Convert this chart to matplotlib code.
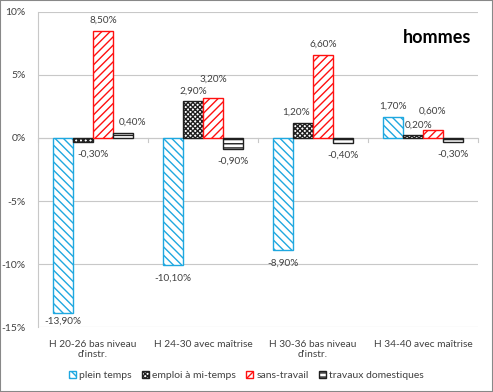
import numpy as np
import matplotlib.pyplot as plt
from matplotlib.ticker import FuncFormatter

plt.rcParams['font.family'] = ['Lato', 'DejaVu Sans']
plt.rcParams['hatch.linewidth'] = 1.0

categories = ["H 20-26 bas niveau\nd'instr.", "H 24-30 avec maîtrise",
              "H 30-36 bas niveau\nd'instr.", "H 34-40 avec maîtrise"]
series = ["plein temps", "emploi à mi-temps", "sans-travail", "travaux domestiques"]
plein_temps = [-13.9, -10.1, -8.9, 1.7]
mi_temps = [-0.3, 2.9, 1.2, 0.2]
sans_travail = [8.5, 3.2, 6.6, 0.6]
travaux = [0.4, -0.9, -0.4, -0.3]

values = [plein_temps, mi_temps, sans_travail, travaux]
edge = ["#1FA8E0", "#202020", "#FF1010", "#202020"]
hatch = ["\\\\\\\\", "xxxxxxx", "////", "----"]

# label nudges in pixels (series index, group index) -> (dx, dy)
nudge = {(1, 0): (10, 0), (3, 0): (10, 0), (2, 1): (0, 8), (1, 2): (-7, 0),
         (1, 3): (6, 0), (2, 3): (0, 9), (0, 0): (0, 4), (0, 1): (0, -1), (0, 2): (0, -1)}

fig = plt.figure(figsize=(4.93, 3.92), dpi=100)
ax = fig.add_axes([0.0771, 0.1658, 0.8925, 0.8036])
fig.patches.append(plt.Rectangle((0, 0), 1, 1, transform=fig.transFigure,
                                 fill=False, edgecolor="#888888", lw=1.5))

x = np.arange(len(categories))
w = 0.18
for i, (vals, name) in enumerate(zip(values, series)):
    pos = x + (i - 1.5) * w
    ax.bar(pos, vals, w, color="white", edgecolor=edge[i], hatch=hatch[i],
           linewidth=1, label=name, zorder=3)
    for j, (p, v) in enumerate(zip(pos, vals)):
        txt = f"{v:.2f}%".replace(".", ",")
        dx, dy = nudge.get((i, j), (0, 0))
        off = 10.5 if v >= 0 else -12
        ax.annotate(txt, (p, v), xytext=(dx, off + dy), textcoords="offset pixels",
                    ha="center", va="center", fontsize=7.2, color="#404040")

ax.set_ylim(-15, 10)
ax.set_xlim(-0.5, 3.5)
ax.set_yticks(range(-15, 11, 5))
ax.yaxis.set_major_formatter(FuncFormatter(lambda v, _: f"{int(v)}%"))
ax.grid(axis="y", color="#C8C8C8", lw=0.8, zorder=0)
ax.set_xticks(x)
ax.set_xticklabels(categories, fontsize=7.3, color="#404040", linespacing=1.25)
ax.tick_params(axis="x", length=0, pad=9)
ax.tick_params(axis="y", length=0, pad=9, labelsize=7.5, labelcolor="#404040")
for s in ["top", "right", "bottom"]:
    ax.spines[s].set_visible(False)
ax.spines["left"].set_color("#C8C8C8")
ax.axhline(0, color="#C8C8C8", lw=0.8, zorder=1)
for b in np.arange(-0.5, 4, 1):
    ax.plot([b, b], [0, -0.3], color="#C8C8C8", lw=0.8, zorder=1, clip_on=False)

ax.text(0.984, 0.92, "hommes", transform=ax.transAxes, ha="right", va="center",
        fontsize=13, fontweight="bold")

fig.legend(loc="center", bbox_to_anchor=(0.5, 0.041), ncol=4, frameon=False,
           fontsize=7.5, handlelength=0.65, handleheight=0.65, handletextpad=0.3,
           columnspacing=1.0, labelcolor="#404040")

fig.savefig("out.png", dpi=100)
